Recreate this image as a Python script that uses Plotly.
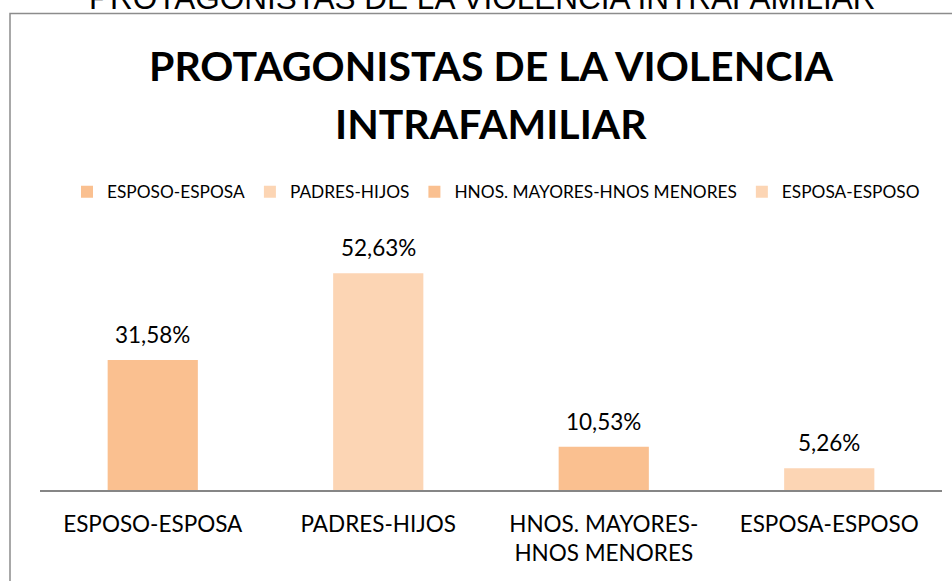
import plotly.graph_objects as go

categories = ["ESPOSO-ESPOSA", "PADRES-HIJOS", "HNOS. MAYORES-HNOS MENORES", "ESPOSA-ESPOSO"]
tick_labels = ["ESPOSO-ESPOSA", "PADRES-HIJOS", "HNOS. MAYORES-<br>HNOS MENORES", "ESPOSA-ESPOSO"]
values = [31.58, 52.63, 10.53, 5.26]
value_labels = ["31,58%", "52,63%", "10,53%", "5,26%"]
colors = ["#FAC090", "#FCD5B4", "#FAC090", "#FCD5B4"]
title_lines = ["PROTAGONISTAS DE LA VIOLENCIA", "INTRAFAMILIAR"]
outer_title = "PROTAGONISTAS DE LA VIOLENCIA INTRAFAMILIAR"

W, H = 952, 581
ML, MR, MT, MB = 40, 10, 243, 91
PW = W - ML - MR
PH = H - MT - MB
YMAX = 60

def px_x(p):
    return (p - ML) / PW

def px_y(p):
    return (H - MB - p) / PH

FONT = "Lato"

fig = go.Figure()
for i, cat in enumerate(categories):
    fig.add_trace(go.Bar(
        x=[cat], y=[values[i]], name=cat,
        marker=dict(color=colors[i], line=dict(width=0)),
        width=0.4, offsetgroup="a",
    ))

annotations = []
for i, cat in enumerate(categories):
    annotations.append(dict(
        x=cat, y=values[i], xref="x", yref="y", text=value_labels[i],
        showarrow=False, yanchor="bottom", yshift=10,
        font=dict(family=FONT, size=22.5, color="#000000"),
    ))

annotations.append(dict(
    x=px_x(482), y=px_y(-2), xref="paper", yref="paper", text=outer_title,
    showarrow=False, xanchor="center", yanchor="middle",
    font=dict(family="Liberation Sans", size=31.5, color="#000000"),
))
annotations.append(dict(
    x=px_x(491), y=px_y(65), xref="paper", yref="paper", text="<b>" + title_lines[0] + "</b>",
    showarrow=False, xanchor="center", yanchor="middle",
    font=dict(family=FONT, size=41, color="#000000"),
))
annotations.append(dict(
    x=px_x(491), y=px_y(123.5), xref="paper", yref="paper", text="<b>" + title_lines[1] + "</b>",
    showarrow=False, xanchor="center", yanchor="middle",
    font=dict(family=FONT, size=41, color="#000000"),
))

fig.update_layout(
    width=W, height=H,
    margin=dict(l=ML, r=MR, t=MT, b=MB, autoexpand=False),
    paper_bgcolor="#FFFFFF", plot_bgcolor="#FFFFFF",
    barmode="overlay",
    showlegend=True,
    legend=dict(
        orientation="h", x=px_x(496), xanchor="center", y=px_y(192), yanchor="middle",
        font=dict(family=FONT, size=17.3, color="#000000"),
        traceorder="normal", itemclick=False,
    ),
    xaxis=dict(
        tickmode="array", tickvals=categories, ticktext=tick_labels,
        showline=True, linecolor="#868686", linewidth=1.5,
        ticks="", showgrid=False, zeroline=False,
        tickfont=dict(family=FONT, size=22.5, color="#000000"),
        ticklabelstandoff=13,
        range=[-0.5, 3.5],
    ),
    yaxis=dict(
        range=[0, YMAX], visible=False, showgrid=False, zeroline=False,
    ),
    annotations=annotations,
    shapes=[dict(
        type="rect", xref="paper", yref="paper",
        x0=px_x(10), x1=px_x(970), y0=px_y(600), y1=px_y(13.5),
        line=dict(color="#8C8C8C", width=1.5), fillcolor="rgba(0,0,0,0)", layer="below",
    )],
)

fig.write_html(
    "out.html",
    config={"displayModeBar": False},
    post_script="document.body.style.margin='0';document.body.style.overflow='hidden';",
)
